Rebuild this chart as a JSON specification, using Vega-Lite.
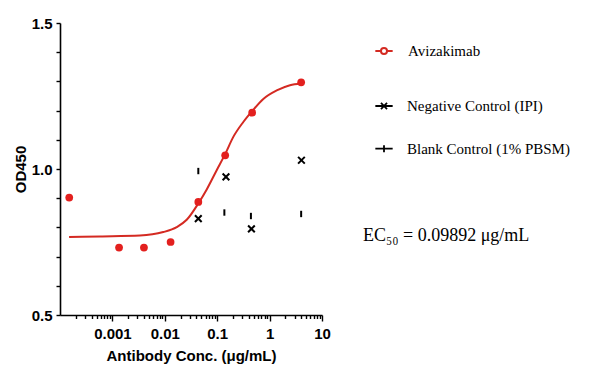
{
  "$schema": "https://vega.github.io/schema/vega-lite/v6.json",
  "autosize": {"type": "none"},
  "padding": {"left": 60, "top": 23, "right": 267, "bottom": 61},
  "width": 262,
  "height": 292,
  "background": "white",
  "title": {
    "text": "EC₅₀ = 0.09892 μg/mL",
    "orient": "top", "anchor": "start", "frame": "group", "offset": 0,
    "dx": 303, "dy": 238, "baseline": "middle",
    "font": "Liberation Serif", "fontSize": 18, "fontWeight": "normal", "color": "black"
  },
  "config": {
    "view": {"stroke": null},
    "axis": {
      "domainColor": "black", "domainWidth": 1.6, "tickColor": "black", "tickWidth": 1.4,
      "labelFont": "Liberation Sans", "labelFontWeight": "bold", "labelFontSize": 15, "labelColor": "black",
      "titleFont": "Liberation Sans", "titleFontWeight": "bold", "titleFontSize": 15, "titleColor": "black",
      "grid": false
    },
    "legend": {
      "orient": "none", "title": null,
      "labelFont": "Liberation Serif", "labelFontSize": 15, "labelColor": "black", "labelLimit": 300,
      "symbolSize": 300, "symbolStrokeWidth": 1.8, "symbolFillColor": "white", "symbolOpacity": 1
    }
  },
  "resolve": {"scale": {"opacity": "independent"}, "legend": {"opacity": "independent"}},
  "datasets": {
    "curve": [
      {"sample": "Avizakimab", "conc": 0.000149, "od": 0.767},
      {"sample": "Avizakimab", "conc": 0.00058, "od": 0.769},
      {"sample": "Avizakimab", "conc": 0.00336, "od": 0.772},
      {"sample": "Avizakimab", "conc": 0.00936, "od": 0.784},
      {"sample": "Avizakimab", "conc": 0.0169, "od": 0.801},
      {"sample": "Avizakimab", "conc": 0.0262, "od": 0.826},
      {"sample": "Avizakimab", "conc": 0.0436, "od": 0.882},
      {"sample": "Avizakimab", "conc": 0.0631, "od": 0.93},
      {"sample": "Avizakimab", "conc": 0.0978, "od": 0.996},
      {"sample": "Avizakimab", "conc": 0.141, "od": 1.05},
      {"sample": "Avizakimab", "conc": 0.203, "od": 1.11},
      {"sample": "Avizakimab", "conc": 0.315, "od": 1.161},
      {"sample": "Avizakimab", "conc": 0.468, "od": 1.199},
      {"sample": "Avizakimab", "conc": 0.759, "od": 1.24},
      {"sample": "Avizakimab", "conc": 1.366, "od": 1.269},
      {"sample": "Avizakimab", "conc": 2.45, "od": 1.287},
      {"sample": "Avizakimab", "conc": 3.97, "od": 1.293}
    ],
    "sample": [
      {"sample": "Avizakimab", "conc": 0.00015, "od": 0.902},
      {"sample": "Avizakimab", "conc": 0.00134, "od": 0.731},
      {"sample": "Avizakimab", "conc": 0.004, "od": 0.731},
      {"sample": "Avizakimab", "conc": 0.0129, "od": 0.75},
      {"sample": "Avizakimab", "conc": 0.0436, "od": 0.887},
      {"sample": "Avizakimab", "conc": 0.142, "od": 1.047},
      {"sample": "Avizakimab", "conc": 0.465, "od": 1.193},
      {"sample": "Avizakimab", "conc": 4.0, "od": 1.297}
    ],
    "negative": [
      {"negative": "Negative Control (IPI)", "conc": 0.0436, "od": 0.83},
      {"negative": "Negative Control (IPI)", "conc": 0.147, "od": 0.973},
      {"negative": "Negative Control (IPI)", "conc": 0.45, "od": 0.795},
      {"negative": "Negative Control (IPI)", "conc": 4.05, "od": 1.03}
    ],
    "blank": [
      {"blank": "Blank Control (1% PBSM)", "conc": 0.0436, "od": 0.993},
      {"blank": "Blank Control (1% PBSM)", "conc": 0.137, "od": 0.851},
      {"blank": "Blank Control (1% PBSM)", "conc": 0.44, "od": 0.839},
      {"blank": "Blank Control (1% PBSM)", "conc": 4.0, "od": 0.846}
    ]
  },
  "encoding": {
    "x": {
      "field": "conc", "type": "quantitative",
      "scale": {"type": "log", "domain": [0.0001, 10], "nice": false},
      "axis": {
        "title": "Antibody Conc. (μg/mL)",
        "values": [0.0002,0.0003,0.0004,0.0005,0.0006,0.0007,0.0008,0.0009,0.001,0.002,0.003,0.004,0.005,0.006,0.007,0.008,0.009,0.01,0.02,0.03,0.04,0.05,0.06,0.07,0.08,0.09,0.1,0.2,0.3,0.4,0.5,0.6,0.7,0.8,0.9,1,2,3,4,5,6,7,8,9,10],
        "labelExpr": "indexof([0.001,0.01,0.1,1,10], datum.value) >= 0 ? format(datum.value, '~g') : ''",
        "tickSize": {"condition": {"test": "indexof([0.001,0.01,0.1,1,10], datum.value) >= 0", "value": 6}, "value": 3.5},
        "labelPadding": 5, "titlePadding": 7, "labelFlush": false, "labelOverlap": false
      }
    },
    "y": {
      "field": "od", "type": "quantitative",
      "scale": {"domain": [0.5, 1.5], "nice": false, "zero": false},
      "axis": {
        "title": "OD450",
        "values": [0.5,0.6,0.7,0.8,0.9,1.0,1.1,1.2,1.3,1.4,1.5],
        "labelExpr": "indexof([0.5,1,1.5], datum.value) >= 0 ? format(datum.value, '.1f') : ''",
        "tickSize": 4, "labelPadding": 4, "titlePadding": 3, "labelOverlap": false
      }
    }
  },
  "layer": [
    {
      "data": {"name": "curve"},
      "mark": {"type": "line", "strokeWidth": 2, "interpolate": "monotone"},
      "encoding": {
        "color": {
          "field": "sample", "type": "nominal",
          "scale": {"domain": ["Avizakimab"], "range": ["#d42a22"]},
          "legend": {
            "legendX": 314, "legendY": 18, "labelOffset": 14,
            "symbolType": "M-1,0H-0.35M0.35,0H1M-0.35,0A0.35,0.35 0 1,1 0.35,0A0.35,0.35 0 1,1 -0.35,0",
            "symbolStrokeWidth": 2, "symbolFillColor": "white"
          }
        }
      }
    },
    {
      "data": {"name": "sample"},
      "mark": {"type": "point", "filled": true, "size": 60, "opacity": 1, "color": "#e3201e"}
    },
    {
      "data": {"name": "negative"},
      "mark": {"type": "point", "filled": false, "color": "black", "strokeWidth": 2, "size": 45, "shape": "M-1,-1L1,1M-1,1L1,-1"},
      "encoding": {
        "opacity": {
          "field": "negative", "type": "nominal",
          "scale": {"domain": ["Negative Control (IPI)"], "range": [1]},
          "legend": {
            "legendX": 314, "legendY": 73, "labelOffset": 13,
            "symbolType": "M-1,0H1M-0.35,-0.35L0.35,0.35M-0.35,0.35L0.35,-0.35",
            "symbolStrokeColor": "black", "symbolFillColor": "transparent"
          }
        }
      }
    },
    {
      "data": {"name": "blank"},
      "mark": {"type": "point", "filled": false, "color": "black", "strokeWidth": 2, "size": 45, "shape": "M0,-0.95V0.95"},
      "encoding": {
        "opacity": {
          "field": "blank", "type": "nominal",
          "scale": {"domain": ["Blank Control (1% PBSM)"], "range": [1]},
          "legend": {
            "legendX": 314, "legendY": 115.7, "labelOffset": 13,
            "symbolType": "M-1,0H1M0,-0.4V0.4",
            "symbolStrokeColor": "black", "symbolFillColor": "transparent"
          }
        }
      }
    }
  ]
}
